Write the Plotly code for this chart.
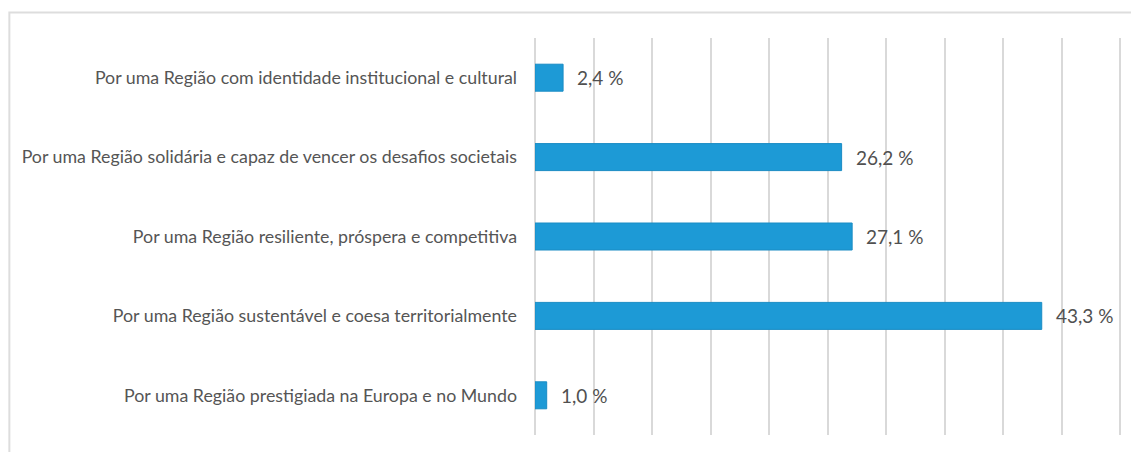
import plotly.graph_objects as go

# Survey shares per strategic axis (%)
categories = [
    "Por uma Região com identidade institucional e cultural",
    "Por uma Região solidária e capaz de vencer os desafios societais",
    "Por uma Região resiliente, próspera e competitiva",
    "Por uma Região sustentável e coesa territorialmente",
    "Por uma Região prestigiada na Europa e no Mundo",
]
values = [2.4, 26.2, 27.1, 43.3, 1.0]

labels = [f"{v:.1f}".replace(".", ",") + " %" for v in values]

W, H = 1131, 452
L, T, B = 535, 38, 17
X_MAX = 50.5
PX_PER_UNIT = 11.7
plot_w = X_MAX * PX_PER_UNIT
R = W - L - plot_w
plot_h = H - T - B

fig = go.Figure(
    go.Bar(
        x=values,
        y=categories,
        orientation="h",
        marker=dict(color="#1D9AD6", line=dict(color="#1A8CC4", width=1)),
        width=0.34,
        hoverinfo="skip",
    )
)

for cat, v, lab in zip(categories, values, labels):
    fig.add_annotation(
        x=v, y=cat, text=lab, showarrow=False,
        xanchor="left", yanchor="middle", xshift=12,
        font=dict(family="Lato", size=19, color="#505050"),
    )

# light outer frame
fig.add_shape(
    type="rect", xref="paper", yref="paper",
    x0=(9.5 - L) / plot_w, x1=1.2,
    y0=-0.2, y1=1 + (T - 12.5) / plot_h,
    line=dict(color="#dddddd", width=2), fillcolor="rgba(0,0,0,0)",
    layer="below",
)

fig.update_layout(
    width=W, height=H,
    margin=dict(l=L, r=R, t=T, b=B),
    paper_bgcolor="white", plot_bgcolor="white",
    showlegend=False,
    xaxis=dict(
        range=[0, X_MAX], dtick=5, showticklabels=False,
        showgrid=True, gridcolor="#d9d9d9", gridwidth=2,
        zeroline=True, zerolinecolor="#d9d9d9", zerolinewidth=2,
        showline=False, fixedrange=True,
    ),
    yaxis=dict(
        categoryorder="array", categoryarray=categories,
        autorange="reversed",
        showgrid=False, zeroline=False, showline=False,
        ticks="", ticklabelstandoff=17,
        tickfont=dict(family="Lato", size=17.8, color="#555555"),
    ),
)

fig.write_html("out.html")
